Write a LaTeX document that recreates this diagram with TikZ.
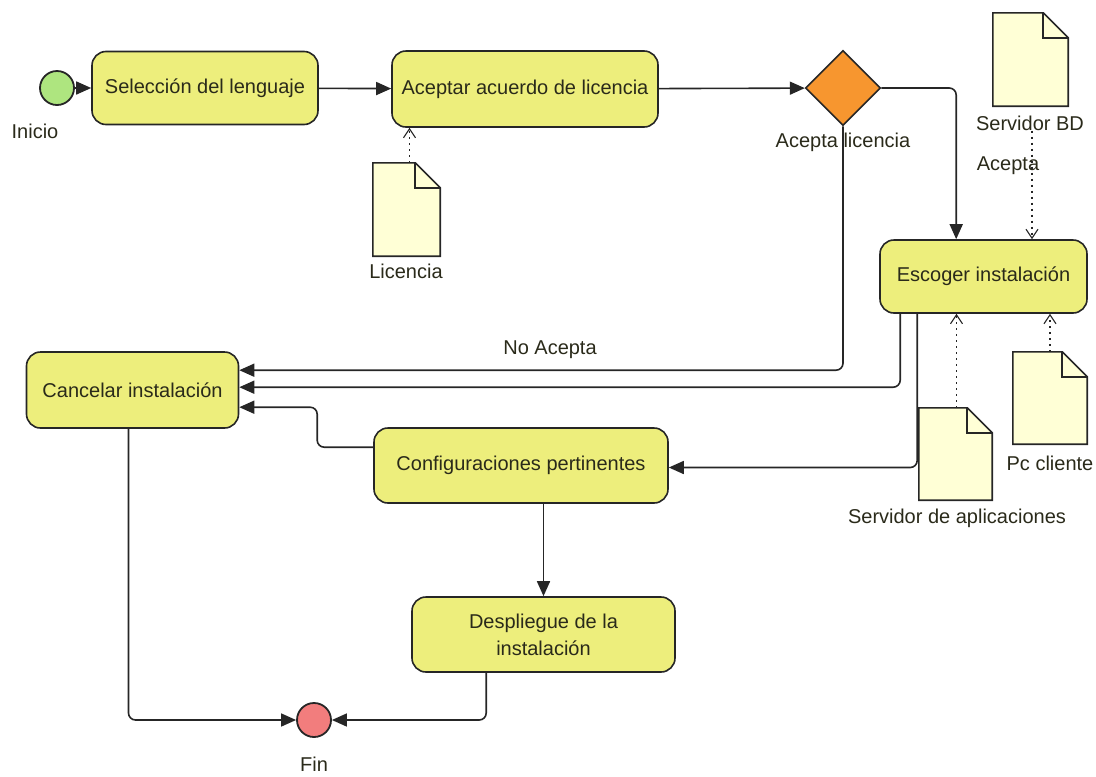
\documentclass[tikz,border=0pt]{standalone}
\usepackage{fontspec}
\setmainfont{Liberation Sans}
\usetikzlibrary{shapes.geometric,arrows.meta,calc}

\definecolor{taskfill}{HTML}{EDEE7C}
\definecolor{docfill}{HTML}{FFFFD6}
\definecolor{gatefill}{HTML}{F7962F}
\definecolor{startfill}{HTML}{AEE57F}
\definecolor{endfill}{HTML}{F27D7D}
\definecolor{ink}{HTML}{262626}
\definecolor{textink}{HTML}{2A2A1A}

% data object outline: page with a folded corner, drawn over a named node
\newcommand{\pagedoc}[1]{%
  \path[docline] (#1.south west) -- (#1.north west)
    -- ($(#1.north east)+(-25pt,0pt)$) -- ($(#1.north east)+(0pt,-25pt)$)
    -- (#1.south east) -- cycle;
  \draw[draw=ink, line width=1.6pt, line join=miter]
    ($(#1.north east)+(-25pt,0pt)$) -- ($(#1.north east)+(-25pt,-25pt)$)
    -- ($(#1.north east)+(0pt,-25pt)$);}

\begin{document}
\begin{tikzpicture}[x=1pt,y=-1pt,
  txt/.style={font=\fontsize{20}{24}\selectfont, text=textink},
  task/.style={txt, draw=ink, fill=taskfill, rounded corners=14pt,
    line width=1.6pt, align=center, inner sep=0pt},
  docbox/.style={inner sep=0pt},
  docline/.style={draw=ink, fill=docfill, line width=1.6pt, line join=miter},
  lbl/.style={txt, inner sep=0pt},
  event/.style={circle, draw=ink, line width=1.8pt, inner sep=0pt, minimum size=34pt},
  flow/.style={draw=ink, line width=1.6pt, rounded corners=7pt,
    -{Triangle[length=15pt,width=13pt]}},
  assoc/.style={draw=ink, line width=1.6pt, dash pattern=on 2pt off 4pt,
    -{Straight Barb[length=9pt,width=12pt,line width=1.1pt]}},
]
\useasboundingbox (0,0) rectangle (1096,777);

% events and gateway
\node[event, fill=startfill] (ini) at (57,88) {};
\node[lbl] (inilbl) at (35,131) {Inicio};
\node[event, fill=endfill] (fin) at (314,720) {};
\node[lbl] (finlbl) at (314,764) {Fin};
\node[diamond, shape aspect=1, draw=ink, fill=gatefill, line width=1.6pt,
  minimum width=75pt, minimum height=75pt, inner sep=0pt] (gw) at (843,88) {};
\node[lbl] (gwlbl) at (843,142) {Acepta licencia};

% tasks
\node[task, minimum width=226pt, minimum height=73pt] (sel) at (205,88) {Selección del lenguaje};
\node[task, minimum width=266pt, minimum height=76pt] (acept) at (525,89) {Aceptar acuerdo de licencia};
\node[task, minimum width=207pt, minimum height=73pt] (esc) at (983.5,276.5) {Escoger instalación};
\node[task, minimum width=212pt, minimum height=76pt] (cancel) at (132.5,390) {Cancelar instalación};
\node[task, minimum width=294pt, minimum height=75pt] (conf) at (521,465.5) {Configuraciones pertinentes};
\node[task, minimum width=263pt, minimum height=75pt] (desp) at (543.5,634.5) {Despliegue de la\\[3pt]instalación};

% data objects
\node[docbox, minimum width=67pt, minimum height=93pt] (lic) at (406.5,209.5) {};
\pagedoc{lic}
\node[lbl] (liclbl) at (406,271) {Licencia};

\node[docbox, minimum width=75pt, minimum height=93pt] (sbd) at (1030.5,59.5) {};
\pagedoc{sbd}
\node[lbl] (sbdlbl) at (1030,123) {Servidor BD};

\node[docbox, minimum width=73pt, minimum height=92pt] (sapp) at (955.5,454) {};
\pagedoc{sapp}
\node[lbl] (sapplbl) at (957,518) {Servidor de aplicaciones};

\node[docbox, minimum width=74pt, minimum height=92pt] (pc) at (1050,398) {};
\pagedoc{pc}
\node[lbl] (pclbl) at (1050,463) {Pc cliente};

% sequence flows
\draw[flow] (ini) -- (sel);
\draw[flow] (sel) -- (acept);
\draw[flow] (acept) -- (gw);
\draw[flow] (gw.east) -| ([xshift=77pt]esc.north west);
\node[lbl] (acepta) at (1008,166) {Acepta};
\draw[flow] (gw.south) |- ([yshift=-19pt]cancel.north east);
\node[lbl] (noacepta) at (550,350) {No Acepta};
\draw[flow] ([xshift=21pt]esc.south west) |- ([yshift=-36pt]cancel.north east);
\draw[flow] ([yshift=-20pt]conf.north west) -- ++(-56,0) |- ([yshift=-56pt]cancel.north east);
\draw[flow] ([xshift=38pt]esc.south west) |- ([yshift=-2pt]conf.east);
\draw[flow] (desp.north |- conf.south) -- (desp.north);
\draw[flow] ([xshift=-4pt]cancel.south) |- (fin.west);
\draw[flow] ([xshift=75pt]desp.south west) |- (fin.east);

% data associations
\draw[assoc] ([xshift=3pt]lic.north) -- ([xshift=3pt]lic.north |- acept.south);
\draw[assoc] ([xshift=2pt]sbdlbl.south) -- ([xshift=2pt]sbdlbl.south |- esc.north);
\draw[assoc] ([xshift=1pt]sapp.north) -- ([xshift=1pt]sapp.north |- esc.south);
\draw[assoc] (pc.north) -- (pc.north |- esc.south);
\end{tikzpicture}
\end{document}
